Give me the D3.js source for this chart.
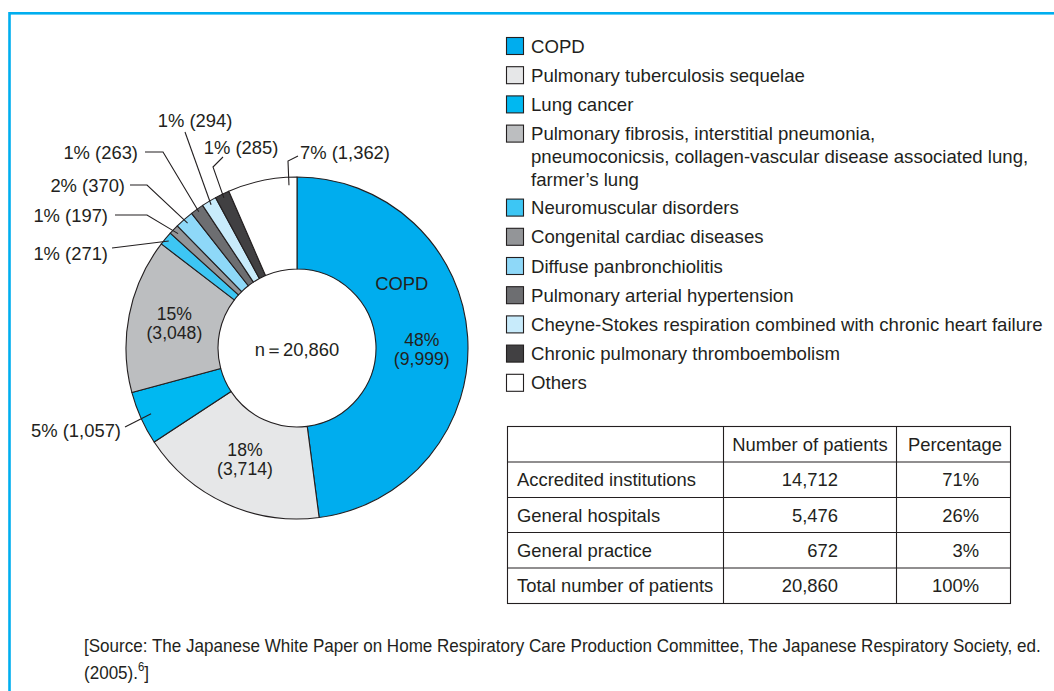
<!DOCTYPE html>
<html>
<head>
<meta charset="utf-8">
<script src="https://cdn.jsdelivr.net/npm/d3@7"></script>
<style>
  body { margin: 0; background: #fff; }
  svg { display: block; font-family: "Liberation Sans", Arial, Helvetica, sans-serif; }
</style>
</head>
<body>
<div id="chart"></div>
<script>
// data
const categories = [
  'COPD',
  'Pulmonary tuberculosis sequelae',
  'Lung cancer',
  'Pulmonary fibrosis, interstitial pneumonia,\npneumoconicsis, collagen-vascular disease associated lung,\nfarmer\u2019s lung',
  'Neuromuscular disorders',
  'Congenital cardiac diseases',
  'Diffuse panbronchiolitis',
  'Pulmonary arterial hypertension',
  'Cheyne-Stokes respiration combined with chronic heart failure',
  'Chronic pulmonary thromboembolism',
  'Others'
]
const patients = [9999, 3714, 1057, 3048, 271, 197, 370, 263, 294, 285, 1362]
const percents = ['48%', '18%', '5%', '15%', '1%', '1%', '2%', '1%', '1%', '1%', '7%']
const colors = ['#00adee', '#e6e7e8', '#00b8f1', '#bcbec0', '#3dc6f4', '#939598',
  '#8ed8f8', '#6d6e71', '#c8ebfb', '#414042', '#ffffff']
const totalLabel = 'n\uFF1D20,860'

const tableHeader = ['', 'Number of patients', 'Percentage']
const tableRows = ['Accredited institutions', 'General hospitals', 'General practice', 'Total number of patients']
const tableCounts = ['14,712', '5,476', '672', '20,860']
const tablePercents = ['71%', '26%', '3%', '100%']

const sourceLine1 = '[Source: The Japanese White Paper on Home Respiratory Care Production Committee, The Japanese Respiratory Society, ed.'

const width = 1054, height = 691
const textColor = '#231f20'
const fs = '18.4px'

const svg = d3.select('#chart').append('svg')
  .attr('width', width)
  .attr('height', height)

// frame
svg.append('rect')
  .attr('x', 9.5).attr('y', 13.3)
  .attr('width', 1100).attr('height', 800)
  .attr('fill', 'none')
  .attr('stroke', '#00aeef')
  .attr('stroke-width', 2.6)

// donut
const cx = 297, cy = 348
const outerR = 171, innerR = 79

const data = categories.map((c, i) => ({ name: c, value: patients[i], pct: percents[i], color: colors[i] }))

const pie = d3.pie().sort(null).value(d => d.value)
const arcs = pie(data)
const arc = d3.arc().innerRadius(innerR).outerRadius(outerR)
const labelArc = d3.arc().innerRadius(125).outerRadius(125)

const g = svg.append('g').attr('transform', `translate(${cx},${cy})`)

g.selectAll('.slice')
  .data(arcs)
  .join('path')
  .attr('class', 'slice')
  .attr('d', arc)
  .attr('fill', d => d.data.color)
  .attr('stroke', '#231f20')
  .attr('stroke-width', 1.1)
  .attr('stroke-linejoin', 'round')

const fmt = d3.format(',')

// labels inside the big slices
const inside = [0, 1, 3]
inside.forEach(i => {
  const [x, y] = labelArc.centroid(arcs[i])
  const dy = i === 0 ? 9 : (i === 1 ? -3 : -1)
  const lab = (s, yy) => g.append('text')
    .attr('x', x).attr('y', yy)
    .attr('text-anchor', 'middle')
    .attr('fill', textColor)
    .style('font-size', '17.6px')
    .text(s)
  lab(arcs[i].data.pct, y + dy - 2.5)
  lab(`(${fmt(arcs[i].data.value)})`, y + dy + 16)
  if (i === 0) {
    g.append('text')
      .attr('x', x - 20).attr('y', y - 50)
      .attr('text-anchor', 'middle')
      .attr('fill', textColor)
      .style('font-size', fs)
      .text('COPD')
  }
})

g.append('text')
  .attr('x', 0).attr('y', 8)
  .attr('text-anchor', 'middle')
  .attr('fill', textColor)
  .style('font-size', fs)
  .text(totalLabel)

// outside labels with leader lines (layout only; anchor computed from the arc)
const callouts = [
  { i: 2, tx: 121, ty: 430, anchor: 'end', pts: [[125, 427]], r: 160, t: 0.5 },
  { i: 4, tx: 108, ty: 253, anchor: 'end', pts: [[112, 248]], r: 167, t: 0.5 },
  { i: 5, tx: 108, ty: 215, anchor: 'end', pts: [[115, 215], [147, 215]], r: 165, t: 0.5 },
  { i: 6, tx: 125, ty: 185, anchor: 'end', pts: [[130, 185], [147, 185]], r: 166, t: 0.5 },
  { i: 7, tx: 138, ty: 152, anchor: 'end', pts: [[145, 152], [163, 152]], r: 168, t: 0.5 },
  { i: 8, tx: 195, ty: 120, anchor: 'middle', pts: [[185, 132]], r: 167, t: 0.5 },
  { i: 9, tx: 241, ty: 147, anchor: 'middle', pts: [[223, 157], [213, 167]], r: 167, t: 0.5 },
  { i: 10, tx: 300, ty: 152, anchor: 'start', pts: [[298, 156], [288, 161]], r: 163, t: 0.88 }
]

callouts.forEach(c => {
  const a = arcs[c.i]
  const ang = a.startAngle + (a.endAngle - a.startAngle) * c.t
  const end = [cx + c.r * Math.sin(ang), cy - c.r * Math.cos(ang)]
  svg.append('path')
    .attr('d', d3.line()([...c.pts, end]))
    .attr('fill', 'none')
    .attr('stroke', '#231f20')
    .attr('stroke-width', 1.1)
  svg.append('text')
    .attr('x', c.tx).attr('y', c.ty + 6.5)
    .attr('text-anchor', c.anchor)
    .attr('fill', textColor)
    .style('font-size', fs)
    .text(`${a.data.pct} (${fmt(a.data.value)})`)
})

// legend
const legend = svg.append('g').attr('transform', 'translate(506,37)')
let ly = 0
data.forEach(d => {
  const lines = d.name.split('\n')
  legend.append('rect')
    .attr('x', 0.5).attr('y', ly + 0.5)
    .attr('width', 17).attr('height', 17)
    .attr('fill', d.color)
    .attr('stroke', '#231f20')
    .attr('stroke-width', 1.1)
  const t = legend.append('text')
    .attr('fill', textColor)
    .style('font-size', '18.6px')
  lines.forEach((l, k) => {
    t.append('tspan').attr('x', 25).attr('y', ly + 15.5 + k * 23).text(l)
  })
  ly += 29.2 + (lines.length - 1) * 22.4
})

// table
const tx0 = 507.5, colX = [507.5, 723.5, 896.5, 1010.5]
const rowY = [426.5, 462, 497.5, 532.5, 568, 603.5]
const table = svg.append('g')
table.append('rect')
  .attr('x', tx0).attr('y', rowY[0])
  .attr('width', colX[3] - tx0).attr('height', rowY[5] - rowY[0])
  .attr('fill', 'none').attr('stroke', '#231f20').attr('stroke-width', 1.1)
rowY.slice(1, 5).forEach(y => {
  table.append('line').attr('x1', colX[0]).attr('x2', colX[3]).attr('y1', y).attr('y2', y)
    .attr('stroke', '#231f20').attr('stroke-width', 1.1)
})
colX.slice(1, 3).forEach(x => {
  table.append('line').attr('x1', x).attr('x2', x).attr('y1', rowY[0]).attr('y2', rowY[5])
    .attr('stroke', '#231f20').attr('stroke-width', 1.1)
})
const cell = (x, y, s, anchor) => table.append('text')
  .attr('x', x).attr('y', y).attr('text-anchor', anchor)
  .attr('fill', textColor).style('font-size', fs).text(s)

cell(810, (rowY[0] + rowY[1]) / 2 + 6.5, tableHeader[1], 'middle')
cell(955, (rowY[0] + rowY[1]) / 2 + 6.5, tableHeader[2], 'middle')
tableRows.forEach((r, k) => {
  const y = (rowY[k + 1] + rowY[k + 2]) / 2 + 6.5
  cell(517, y, r, 'start')
  cell(838, y, tableCounts[k], 'end')
  cell(979, y, tablePercents[k], 'end')
})

// source note (condensed face in the original): squeeze horizontally
const src = svg.append('g').attr('fill', textColor).style('font-size', '18px')
const l1 = src.append('text').attr('x', 0).attr('y', 0).text(sourceLine1)
const sx = 958 / l1.node().getComputedTextLength()
l1.attr('transform', `translate(84,652) scale(${sx},1)`)
const l2 = src.append('text').attr('transform', `translate(84,679) scale(${sx},1)`)
l2.append('tspan').text('(2005).')
l2.append('tspan').attr('dy', -8).style('font-size', '12px').text('6')
l2.append('tspan').attr('dy', 8).text(']')
</script>
</body>
</html>
